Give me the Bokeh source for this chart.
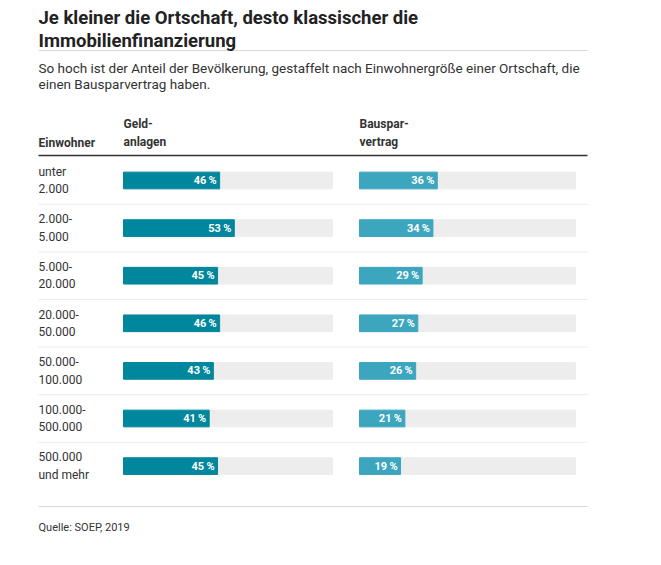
from bokeh.plotting import figure
from bokeh.models import Range1d, ColumnDataSource, Label
from bokeh.core.properties import value
from bokeh.embed import file_html
from bokeh.resources import INLINE

# ---- data ----
categories = ["unter\n2.000", "2.000-\n5.000", "5.000-\n20.000", "20.000-\n50.000",
              "50.000-\n100.000", "100.000-\n500.000", "500.000\nund mehr"]
geldanlagen = [46, 53, 45, 46, 43, 41, 45]
bausparvertrag = [36, 34, 29, 27, 26, 21, 19]
full_scale = [100] * len(categories)

title_lines = ["Je kleiner die Ortschaft, desto klassischer die", "Immobilienfinanzierung"]
subtitle_lines = ["So hoch ist der Anteil der Bevölkerung, gestaffelt nach Einwohnergröße einer Ortschaft, die",
                  "einen Bausparvertrag haben."]
col_headers = ["Einwohner", "Geld-\nanlagen", "Bauspar-\nvertrag"]
source_note = "Quelle: SOEP, 2019"

# ---- layout constants ----
W, H = 645, 545
FONT = "Roboto"
DARK = "#00879d"
LIGHT = "#3ca6bf"
TRACK = "#ededed"
LX = 38      # left edge of content
RX = 587     # right edge of content

idx = list(range(len(categories)))
src = ColumnDataSource(dict(
    idx=idx, cat=categories, geld=geldanlagen, bspv=bausparvertrag, full=full_scale,
    geld_lbl=[f"{v}\u2009%" for v in geldanlagen], bspv_lbl=[f"{v}\u2009%" for v in bausparvertrag],
))
sep_src = ColumnDataSource(dict(sep=[i + 0.5 for i in idx[:-1]]))

p = figure(width=W, height=H, output_backend="svg", toolbar_location=None,
           x_range=Range1d(0, W), y_range=Range1d(H, 0),
           x_axis_type=None, y_axis_type=None, min_border=0)
p.grid.visible = False
p.outline_line_color = None
p.background_fill_color = "white"

# column scales (value 0..100)
l0, l1 = 123, 332
r0, r1 = 359, 575
sl = (l1 - l0) / 100
sr = (r1 - r0) / 100
p.extra_x_ranges = {
    "left": Range1d(-l0 / sl, (W - l0) / sl),
    "right": Range1d(-r0 / sr, (W - r0) / sr),
}
row0, step = 180, 47.6
p.extra_y_ranges = {"rows": Range1d((H - row0) / step, -row0 / step)}

bh = 0.35
for xr, col, lbl, color in (("left", "geld", "geld_lbl", DARK), ("right", "bspv", "bspv_lbl", LIGHT)):
    p.hbar(y="idx", left=0, right="full", height=bh, source=src, color=TRACK,
           x_range_name=xr, y_range_name="rows")
    p.hbar(y="idx", left=0, right=col, height=bh, source=src, color=color,
           x_range_name=xr, y_range_name="rows")
    p.text(x=col, y="idx", text=lbl, source=src, x_range_name=xr, y_range_name="rows",
           x_offset=-3, text_align="right", text_baseline="middle",
           text_font=value(FONT), text_font_style="bold", text_font_size="11px",
           text_color="white")

# row labels
p.text(x=LX, y="idx", text="cat", source=src, y_range_name="rows",
       text_align="left", text_baseline="middle", text_font=value(FONT),
       text_font_size="12px", text_color="#333333", text_line_height=1.25)

# row separators
p.segment(x0=LX, x1=RX, y0="sep", y1="sep", source=sep_src, y_range_name="rows",
          line_color="#ebebeb", line_width=1)

# static lines
p.segment(x0=[LX], x1=[RX], y0=[50], y1=[50], line_color="#d9d9d9", line_width=1)
p.segment(x0=[LX], x1=[RX], y0=[155], y1=[155], line_color="#333333", line_width=1.5)
p.segment(x0=[LX], x1=[RX], y0=[506], y1=[506], line_color="#d9d9d9", line_width=1)

# texts
for t, y in zip(title_lines, (17, 40)):
    p.add_layout(Label(x=LX, y=y, text=t, text_baseline="middle", text_font=FONT,
                       text_font_style="bold", text_font_size="18.5px", text_color="#222222"))
for t, y in zip(subtitle_lines, (67, 83)):
    p.add_layout(Label(x=LX, y=y, text=t, text_baseline="middle", text_font=FONT,
                       text_font_size="13.5px", text_color="#333333"))

p.text(x=[LX, l0, r0], y=[149, 149, 149], text=col_headers, text_baseline="bottom",
       text_font=value(FONT), text_font_style="bold", text_font_size="12px",
       text_color="#333333", text_line_height=1.35)

p.add_layout(Label(x=LX, y=527, text=source_note, text_baseline="middle", text_font=FONT,
                   text_font_size="11px", text_color="#333333"))

open("out.html", "w").write(file_html(p, INLINE))
